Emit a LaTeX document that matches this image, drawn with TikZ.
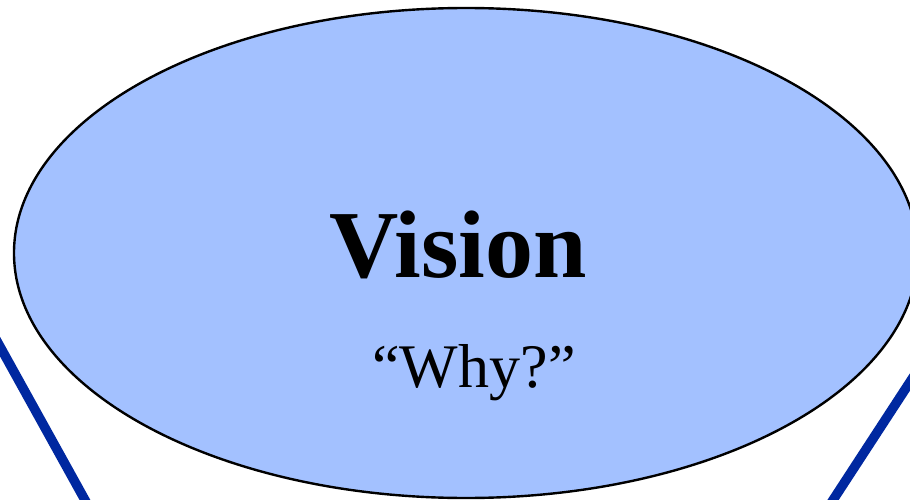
\documentclass[tikz,border=0pt]{standalone}
\usepackage{fontspec}
\setmainfont{Liberation Serif}
\usetikzlibrary{shapes.geometric}
\definecolor{ellfill}{RGB}{163,193,255}
\definecolor{lineblue}{RGB}{0,40,160}
\tikzset{
  visionell/.style={ellipse, draw=black, line width=2.4pt, fill=ellfill, inner sep=0pt},
  blueline/.style={draw=lineblue, line width=9.5pt},
  titletext/.style={anchor=base, inner sep=0pt, font=\fontsize{96}{96}\selectfont\bfseries},
  subtext/.style={anchor=base, inner sep=0pt, font=\fontsize{62}{62}\selectfont}
}
\begin{document}
\begin{tikzpicture}[x=1pt,y=-1pt]
\useasboundingbox (0,0) rectangle (910,500);
\clip (0,0) rectangle (910,500);
\fill[white] (0,0) rectangle (910,500);
\coordinate (lt) at (-10,328.5);
\coordinate (lb) at (90.5,510);
\coordinate (rt) at (920,366.6);
\coordinate (rb) at (826.5,510);
\draw[blueline] (lt) -- (lb);
\draw[blueline] (rt) -- (rb);
\node[visionell, minimum width=904pt, minimum height=490pt] (ell) at (466,253) {};
\node[titletext] (title) at (458,277) {Vision};
\node[subtext] (why) at (474,387) {“Why?”};
\end{tikzpicture}
\end{document}
